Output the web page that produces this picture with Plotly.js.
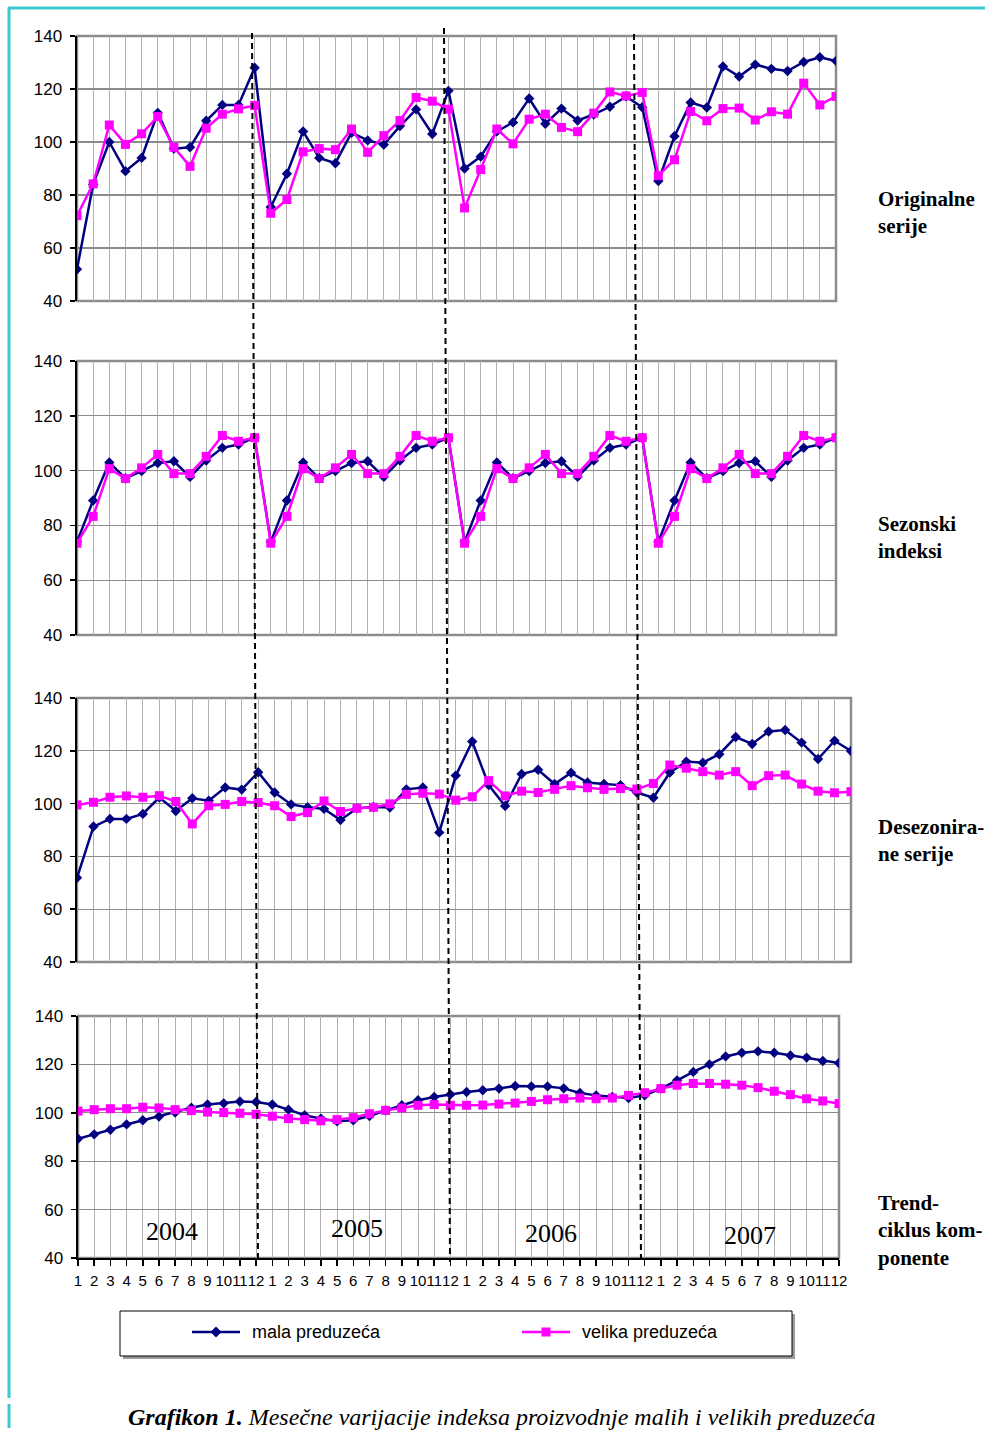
<!DOCTYPE html>
<html>
<head>
<meta charset="utf-8">
<script src="https://cdn.plot.ly/plotly-3.0.1.min.js"></script>
<style>
  html, body { margin: 0; padding: 0; background: #ffffff; }
  #chart { width: 985px; height: 1430px; }
</style>
</head>
<body>
<div id="chart"></div>
<script>
// Month labels for one year; the axis repeats them for 2004-2007
const monthLabels = ['1','2','3','4','5','6','7','8','9','10','11','12'];
const years = ['2004', '2005', '2006', '2007'];
const seriesNames = ['mala preduzeća', 'velika preduzeća'];
const panelTitles = ['Originalne<br>serije', 'Sezonski<br>indeksi', 'Desezonira-<br>ne serije', 'Trend-<br>ciklus kom-<br>ponente'];

// Originalne serije
const origMala = [52, 84, 100, 89, 94, 111, 97.5, 98, 108, 114, 114, 128,
  75.5, 88, 104, 94, 92, 103.5, 100.6, 99, 106, 112.3, 103, 119.3,
  90, 94.5, 104, 107.4, 116.4, 106.9, 112.6, 108.1, 110.4, 113.3, 117.2, 113.1,
  85.3, 102.2, 114.9, 113, 128.5, 124.7, 129.2, 127.6, 126.8, 130.2, 132, 130.6];
const origVelika = [72.2, 84.2, 106.4, 99.1, 103.1, 109.6, 98, 90.8, 105.2, 110.5, 112.5, 113.8,
  73.1, 78.3, 96.3, 97.5, 97.1, 104.9, 96.1, 102.4, 108.1, 116.8, 115.4, 112.4,
  75.1, 89.6, 104.9, 99.3, 108.6, 110.5, 105.5, 103.9, 110.9, 118.9, 117.4, 118.7,
  87.3, 93.3, 111.5, 108, 112.6, 112.8, 108.3, 111.4, 110.5, 122.2, 114, 117.2];

// Sezonski indeksi
const sezMala = [74, 89.1, 103, 97.2, 99.8, 102.8, 103.4, 97.7, 103.7, 108.3, 109.5, 112,
  74, 89.1, 103, 97.2, 99.8, 102.8, 103.4, 97.7, 103.7, 108.3, 109.5, 112,
  74, 89.1, 103, 97.2, 99.8, 102.8, 103.4, 97.7, 103.7, 108.3, 109.5, 112,
  74, 89.1, 103, 97.2, 99.8, 102.8, 103.4, 97.7, 103.7, 108.3, 109.5, 112];
const sezVelika = [73.5, 83.3, 100.7, 97.1, 101, 105.9, 98.9, 98.9, 105.2, 112.8, 110.7, 112,
  73.5, 83.3, 100.7, 97.1, 101, 105.9, 98.9, 98.9, 105.2, 112.8, 110.7, 112,
  73.5, 83.3, 100.7, 97.1, 101, 105.9, 98.9, 98.9, 105.2, 112.8, 110.7, 112,
  73.5, 83.3, 100.7, 97.1, 101, 105.9, 98.9, 98.9, 105.2, 112.8, 110.7, 112];

// Desezonirane serije
const desMala = [71.9, 91.3, 94.2, 94.2, 96.1, 102.3, 97.2, 102, 101.1, 106.1, 105.3, 111.9,
  104.2, 99.7, 98.6, 98, 93.8, 98.2, 98.7, 98.5, 105.4, 106.1, 89.1, 110.6,
  123.5, 107, 99.1, 111.2, 112.8, 107.4, 111.7, 108, 107.4, 107, 104.2, 102.2,
  111.8, 115.9, 115.5, 118.7, 125.2, 122.6, 127.3, 127.9, 123.1, 116.9, 123.8, 119.9];
const desVelika = [99.5, 100.5, 102.4, 102.9, 102.4, 103, 100.8, 92.3, 99.2, 99.7, 100.8, 100.4,
  99.2, 95.1, 96.6, 101, 97, 98.2, 98.6, 99.9, 103.5, 103.9, 103.6, 101.3,
  102.6, 108.7, 102.9, 104.7, 104.2, 105.4, 106.8, 106, 105.4, 105.7, 105.5, 107.6,
  114.6, 113.4, 112.1, 110.8, 112.1, 106.8, 110.6, 110.8, 107.4, 104.7, 104.1, 104.5];

// Trend-ciklus komponente
const trendMala = [89.3, 91.1, 93, 95.2, 96.9, 98.5, 100.1, 102.1, 103.4, 103.9, 104.7, 104.5,
  103.4, 101.3, 99, 97.6, 96.5, 96.9, 98.7, 101, 103.1, 105.2, 106.5, 107.6,
  108.6, 109.3, 110, 111.1, 110.9, 110.9, 110.1, 108.2, 107.2, 106.5, 106.1, 107.2,
  110, 113.4, 116.9, 120, 123.3, 124.8, 125.4, 124.8, 123.7, 122.8, 121.4, 120.6];
const trendVelika = [100.7, 101.3, 101.7, 101.7, 102.3, 102, 101.3, 100.9, 100.3, 100.1, 99.8, 99.4,
  98.6, 97.6, 97.2, 96.7, 97.2, 98, 99.6, 101, 102, 103.1, 103.4, 103.1,
  103.1, 103.2, 103.6, 104, 104.7, 105.4, 105.8, 106.1, 105.8, 106.1, 107.2, 108.3,
  110, 111.4, 112.1, 112.1, 111.8, 111.4, 110.4, 108.9, 107.5, 105.8, 104.9, 103.8];

// ---- page geometry (pixels) ----
const W = 985, H = 1430;
const px = v => v / W;
const py = v => 1 - v / H;

const panels = [
  { mala: origMala,  velika: origVelika,  x: [77, 836], y: [36, 301],   titleY: 213 },
  { mala: sezMala,   velika: sezVelika,   x: [77, 836], y: [361, 635],  titleY: 537 },
  { mala: desMala,   velika: desVelika,   x: [77, 851], y: [698, 962],  titleY: 840 },
  { mala: trendMala, velika: trendVelika, x: [78, 839], y: [1016, 1258], titleY: 1230 }
];

const NAVY = '#000080', MAGENTA = '#ff00ff';
const sansFont = 'Liberation Sans, Arial, sans-serif';
const serifFont = 'Liberation Serif, Times New Roman, serif';

const nPts = years.length * monthLabels.length;
const idx = Array.from({ length: nPts }, (_, i) => i + 1);
const tickText = years.flatMap(() => monthLabels);

const data = [];
const layout = {
  width: W, height: H, autosize: false,
  margin: { l: 0, r: 0, t: 0, b: 0, pad: 0 },
  paper_bgcolor: '#ffffff', plot_bgcolor: 'rgba(0,0,0,0)',
  showlegend: false,
  shapes: [], annotations: []
};

panels.forEach((p, i) => {
  const n = i + 1;
  const xa = 'x' + (n === 1 ? '' : n), ya = 'y' + (n === 1 ? '' : n);
  const isLast = n === panels.length;

  data.push({
    x: idx, y: p.mala, xaxis: xa, yaxis: ya, name: seriesNames[0],
    type: 'scatter', mode: 'lines+markers',
    line: { color: NAVY, width: 2.5 },
    marker: { symbol: 'diamond', size: 8, color: NAVY }
  });
  data.push({
    x: idx, y: p.velika, xaxis: xa, yaxis: ya, name: seriesNames[1],
    type: 'scatter', mode: 'lines+markers',
    line: { color: MAGENTA, width: 2.5 },
    marker: { symbol: 'square', size: 9, color: MAGENTA }
  });

  layout['xaxis' + (n === 1 ? '' : n)] = {
    domain: [px(p.x[0]), px(p.x[1])],
    anchor: ya, range: [1, nPts],
    tickmode: 'array', tickvals: idx, ticktext: tickText,
    showticklabels: isLast, tickangle: 0,
    tickfont: { family: sansFont, size: 15, color: '#000' },
    ticks: isLast ? 'outside' : '', ticklen: 6, tickwidth: 1.5, tickcolor: '#000',
    ticklabelstandoff: 2,
    showgrid: true, gridcolor: '#b0b0b0', gridwidth: 1,
    zeroline: false,
    showline: isLast, linecolor: '#000', linewidth: 2,
    fixedrange: true
  };
  layout['yaxis' + (n === 1 ? '' : n)] = {
    domain: [py(p.y[1]), py(p.y[0])],
    anchor: xa, range: [40, 140],
    tickmode: 'array', tickvals: [40, 60, 80, 100, 120, 140],
    tickfont: { family: sansFont, size: 17, color: '#000' },
    ticks: 'outside', ticklen: 5, tickwidth: 1.5, tickcolor: '#000',
    ticklabelstandoff: 4,
    showgrid: true, gridcolor: '#8c8c8c', gridwidth: 1.2,
    zeroline: false,
    showline: true, linecolor: '#000', linewidth: 2.5,
    fixedrange: true
  };

  // grey frame of the plot area
  layout.shapes.push({
    type: 'rect', xref: xa + ' domain', yref: ya + ' domain',
    x0: 0, x1: 1, y0: 0, y1: 1, layer: 'below',
    line: { color: '#8c8c8c', width: 2.5 }
  });

  // panel caption on the right
  layout.annotations.push({
    xref: 'paper', yref: 'paper', x: px(876), y: py(p.titleY),
    xanchor: 'left', yanchor: 'middle', align: 'left', showarrow: false,
    text: '<b>' + panelTitles[i] + '</b>',
    font: { family: serifFont, size: 21, color: '#000' }
  });
});

// year separators running through all four panels
const separators = [[252, 33, 258, 1262], [444, 28, 450, 1262], [634, 34, 641, 1262]];
separators.forEach(s => layout.shapes.push({
  type: 'line', xref: 'paper', yref: 'paper', layer: 'above',
  x0: px(s[0]), y0: py(s[1]), x1: px(s[2]), y1: py(s[3]),
  line: { color: '#000', width: 2, dash: '6px,4px' }
}));

// year labels inside the trend panel
const yearPos = [[172, 1231], [357, 1228], [551, 1233], [750, 1235]];
years.forEach((yr, i) => layout.annotations.push({
  xref: 'paper', yref: 'paper', x: px(yearPos[i][0]), y: py(yearPos[i][1]),
  xanchor: 'center', yanchor: 'middle', showarrow: false, text: yr,
  font: { family: serifFont, size: 26, color: '#000' }
}));

// legend box with shadow
layout.shapes.push({
  type: 'rect', xref: 'paper', yref: 'paper', layer: 'above',
  x0: px(123), x1: px(795), y0: py(1314), y1: py(1359),
  fillcolor: '#9a9a9a', line: { width: 0 }
});
layout.shapes.push({
  type: 'rect', xref: 'paper', yref: 'paper', layer: 'above',
  x0: px(120), x1: px(792), y0: py(1311), y1: py(1356),
  fillcolor: '#ffffff', line: { color: '#000', width: 1 }
});
const legendY = 1332;
const legendItems = [
  { x0: 192, x1: 240, color: NAVY, symbol: 'diamond', textX: 250 },
  { x0: 522, x1: 570, color: MAGENTA, symbol: 'square', textX: 580 }
];
legendItems.forEach((it, i) => {
  layout.shapes.push({
    type: 'line', xref: 'paper', yref: 'paper', layer: 'above',
    x0: px(it.x0), x1: px(it.x1), y0: py(legendY), y1: py(legendY),
    line: { color: it.color, width: 2.5 }
  });
  const cx = (it.x0 + it.x1) / 2;
  let path;
  if (it.symbol === 'diamond') {
    const r = 5.5;
    path = `M ${px(cx)} ${py(legendY - r)} L ${px(cx + r)} ${py(legendY)} L ${px(cx)} ${py(legendY + r)} L ${px(cx - r)} ${py(legendY)} Z`;
  } else {
    const r = 4.5;
    path = `M ${px(cx - r)} ${py(legendY - r)} L ${px(cx + r)} ${py(legendY - r)} L ${px(cx + r)} ${py(legendY + r)} L ${px(cx - r)} ${py(legendY + r)} Z`;
  }
  layout.shapes.push({
    type: 'path', xref: 'paper', yref: 'paper', layer: 'above', path,
    fillcolor: it.color, line: { color: it.color, width: 0 }
  });
  layout.annotations.push({
    xref: 'paper', yref: 'paper', x: px(it.textX), y: py(legendY),
    xanchor: 'left', yanchor: 'middle', showarrow: false, text: seriesNames[i],
    font: { family: sansFont, size: 18, color: '#000' }
  });
});

// figure caption
layout.annotations.push({
  xref: 'paper', yref: 'paper', x: px(501), y: py(1417),
  xanchor: 'center', yanchor: 'middle', showarrow: false,
  text: '<b><i>Grafikon 1.</i></b><i> Mesečne varijacije indeksa proizvodnje malih i velikih preduzeća</i>',
  font: { family: serifFont, size: 24, color: '#000' }
});

// page frame lines
layout.shapes.push({
  type: 'line', xref: 'paper', yref: 'paper', layer: 'above',
  x0: px(8), x1: px(985), y0: py(8), y1: py(8),
  line: { color: '#3cc8d0', width: 3 }
});
layout.shapes.push({
  type: 'line', xref: 'paper', yref: 'paper', layer: 'above',
  x0: px(9), x1: px(9), y0: py(8), y1: py(1398),
  line: { color: '#3cc8d0', width: 3 }
});
layout.shapes.push({
  type: 'line', xref: 'paper', yref: 'paper', layer: 'above',
  x0: px(9), x1: px(9), y0: py(1404), y1: py(1428),
  line: { color: '#3cc8d0', width: 3 }
});

Plotly.newPlot('chart', data, layout, { displayModeBar: false, staticPlot: true });
</script>
</body>
</html>
